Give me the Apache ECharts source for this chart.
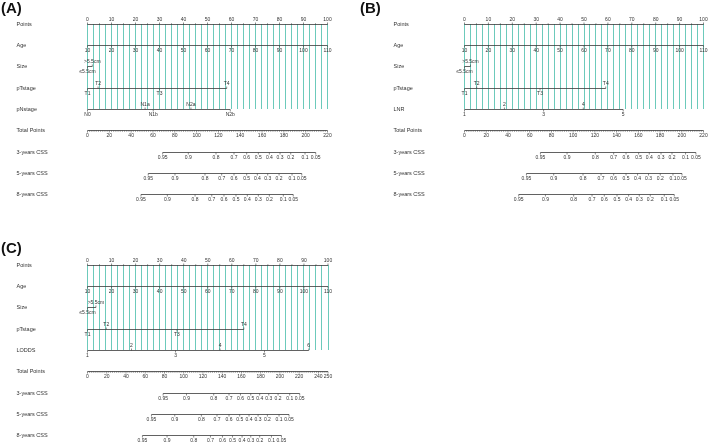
<!DOCTYPE html>
<html><head><meta charset="utf-8">
<script src="https://cdn.jsdelivr.net/npm/echarts@6/dist/echarts.min.js"></script>
<style>html,body{margin:0;padding:0;background:#fff}#c{width:709px;height:443px}</style>
</head><body><div id="c"></div>
<script>
// ---------- data ----------
const panelTitles = ['(A)', '(B)', '(C)'];
const rowNames = ['Points', 'Age', 'Size', 'pTstage', '', 'Total Points', '3-years CSS', '5-years CSS', '8-years CSS'];
const fourthRowNames = ['pNstage', 'LNR', 'LODDS'];

const pointsTicks = [0, 10, 20, 30, 40, 50, 60, 70, 80, 90, 100];
const ageTicks = [10, 20, 30, 40, 50, 60, 70, 80, 90, 100, 110];
const ageRange = [10, 110];           // maps onto 0..100 points

const sizeLabels = ['≤5.5cm', '>5.5cm'];
const sizePointsA = [0, 2];
const sizePointsB = [0, 2.5];
const sizePointsC = [0, 3.5];

const tLabels = ['T1', 'T2', 'T3', 'T4'];
const tPointsA = [0, 4.4, 30, 58];
const tPointsB = [0, 5.1, 31.6, 59.1];
const tPointsC = [0, 7.8, 37.2, 65];

const nLabels = ['N0', 'N1a', 'N1b', 'N2a', 'N2b'];
const nPointsA = [0, 24, 27.4, 43.1, 59.5];

const lnrLabels = ['1', '2', '3', '4', '5'];
const lnrPointsB = [0, 16.7, 33.1, 49.7, 66.4];

const loddsLabels = ['1', '2', '3', '4', '5', '6'];
const loddsPointsC = [0, 18.3, 36.6, 55.1, 73.6, 92];

const totalTicksA = [0, 20, 40, 60, 80, 100, 120, 140, 160, 180, 200, 220];
const totalTicksB = [0, 20, 40, 60, 80, 100, 120, 140, 160, 180, 200, 220];
const totalTicksC = [0, 20, 40, 60, 80, 100, 120, 140, 160, 180, 200, 220, 240, 250];
const totalMax = [220, 220, 250];

const cssLabels = ['0.95', '0.9', '0.8', '0.7', '0.6', '0.5', '0.4', '0.3', '0.2', '0.1', '0.05'];
// positions in total points
const css3A = [68.9, 92.4, 117.8, 134.3, 145.9, 156.6, 166.7, 176.5, 186.3, 199.4, 209.2];
const css5A = [55.7, 80.2, 107.7, 123.0, 134.3, 145.9, 155.7, 165.2, 175.6, 187.5, 196.4];
const css8A = [49.0, 73.2, 98.6, 113.9, 125.1, 136.1, 146.5, 156.6, 166.7, 179.5, 188.6];
const css3B = [69.9, 94.4, 120.4, 137.3, 148.7, 160.3, 170.1, 180.9, 191.0, 203.5, 213.0];
const css5B = [57.0, 82.1, 109.1, 125.7, 137.3, 148.7, 159.3, 169.4, 180.2, 191.9, 200.2];
const css8B = [49.9, 74.5, 100.5, 117.4, 128.7, 140.4, 151.1, 160.9, 171.0, 183.9, 193.1];
const css3C = [78.6, 102.9, 131.2, 147.1, 159.0, 169.7, 179.0, 188.4, 198.1, 210.2, 220.6];
const css5C = [66.5, 90.7, 118.4, 134.6, 147.1, 158.2, 167.9, 177.3, 187.0, 199.1, 209.5];
const css8C = [57.1, 82.7, 110.4, 127.8, 140.3, 150.7, 160.7, 169.7, 179.0, 191.2, 201.6];

// ---------- styling ----------
const axisColor = '#3a3a3a';
const textColor = '#333';
const gridLineColor = '#6ccabb';
const fontFam = 'Liberation Sans, Arial, sans-serif';
const guideStep = 2.5;     // spacing of the vertical guide lines, in points
const pointsMinorStep = 5;
const totalMinorStep = 2;
const snap = v => Math.round(v - 0.5) + 0.5;

const grids = [
  { left: 87.5, top: 24, width: 240, height: 170.67 },
  { left: 464.5, top: 24, width: 239, height: 170.67 },
  { left: 87.5, top: 265, width: 240.5, height: 170.67 }
];

const panels = [
  { size: sizePointsA, t: tPointsA, fourthLabels: nLabels, fourth: nPointsA, total: totalTicksA, css: [css3A, css5A, css8A] },
  { size: sizePointsB, t: tPointsB, fourthLabels: lnrLabels, fourth: lnrPointsB, total: totalTicksB, css: [css3B, css5B, css8B] },
  { size: sizePointsC, t: tPointsC, fourthLabels: loddsLabels, fourth: loddsPointsC, total: totalTicksC, css: [css3C, css5C, css8C] }
];

const series = [];

function addPanel(pi) {
  const P = panels[pi];
  const tMax = totalMax[pi];
  const toPts = v => v * 100 / tMax;
  const ticks = [];   // [x, row, label, side(1 up/-1 down), major]
  const lines = [];   // [x1, x2, row]

  // Points
  lines.push([0, 100, 0]);
  for (let v = 0; v <= 100; v += pointsMinorStep) {
    if (pointsTicks.indexOf(v) < 0) ticks.push([v, 0, '', 1, 0]);
  }
  pointsTicks.forEach(v => ticks.push([v, 0, String(v), 1, 1]));
  // Age
  lines.push([0, 100, 1]);
  const ageToPts = a => (a - ageRange[0]) * 100 / (ageRange[1] - ageRange[0]);
  ageTicks.forEach(a => ticks.push([ageToPts(a), 1, String(a), -1, 1]));
  // categorical rows
  const cat = (labels, pts, row) => {
    lines.push([pts[0], pts[pts.length - 1], row]);
    labels.forEach((l, i) => ticks.push([pts[i], row, l, i % 2 === 0 ? -1 : 1, 1]));
  };
  cat(sizeLabels, P.size, 2);
  cat(tLabels, P.t, 3);
  cat(P.fourthLabels, P.fourth, 4);
  // Total points
  lines.push([0, 100, 5]);
  for (let v = 0; v <= tMax; v += totalMinorStep) {
    if (P.total.indexOf(v) < 0) ticks.push([toPts(v), 5, '', -1, 0]);
  }
  P.total.forEach(v => ticks.push([toPts(v), 5, String(v), -1, 1]));
  // CSS rows
  P.css.forEach((arr, k) => {
    const row = 6 + k;
    lines.push([toPts(arr[0]), toPts(arr[arr.length - 1]), row]);
    arr.forEach((v, i) => ticks.push([toPts(v), row, cssLabels[i], -1, 1]));
  });

  // vertical guide lines
  const guides = [];
  for (let v = 0; v <= 100 + 1e-9; v += guideStep) guides.push([v, 0, 4]);

  series.push({
    type: 'custom', xAxisIndex: pi, yAxisIndex: pi, silent: true, clip: false, z: 1,
    data: guides,
    renderItem(params, api) {
      const a = api.coord([api.value(0), api.value(1)]);
      const b = api.coord([api.value(0), api.value(2)]);
      const x = snap(a[0]);
      return { type: 'line', shape: { x1: x, y1: Math.round(a[1]), x2: x, y2: Math.round(b[1]) },
        style: { stroke: gridLineColor, lineWidth: 1 } };
    }
  });

  series.push({
    type: 'custom', xAxisIndex: pi, yAxisIndex: pi, silent: true, clip: false, z: 3,
    data: lines,
    renderItem(params, api) {
      const a = api.coord([api.value(0), api.value(2)]);
      const b = api.coord([api.value(1), api.value(2)]);
      const y = snap(a[1]);
      return { type: 'line', shape: { x1: a[0], y1: y, x2: b[0], y2: y },
        style: { stroke: axisColor, lineWidth: 0.8 } };
    }
  });

  series.push({
    type: 'custom', xAxisIndex: pi, yAxisIndex: pi, silent: true, clip: false, z: 4,
    data: ticks.map(t => [t[0], t[1], t[3], t[4]]),
    renderItem(params, api) {
      const p = api.coord([api.value(0), api.value(1)]);
      const side = api.value(2), major = api.value(3);
      const dir = side > 0 ? -1 : 1;
      const len = major ? 2 : 1.2;
      const y0 = snap(p[1]);
      const children = [{ type: 'line', shape: { x1: p[0], y1: y0, x2: p[0], y2: y0 + dir * len },
        style: { stroke: axisColor, lineWidth: 0.6 } }];
      const label = ticks[params.dataIndex][2];
      if (label) {
        children.push({ type: 'text', x: p[0], y: y0 + dir * (len + 0.6),
          style: { text: label, fontSize: 5, fontFamily: fontFam, fill: textColor,
            align: 'center', verticalAlign: side > 0 ? 'bottom' : 'top' } });
      }
      return { type: 'group', children };
    }
  });

  // row names
  const names = rowNames.map((n, i) => i === 4 ? fourthRowNames[pi] : n);
  series.push({
    type: 'custom', xAxisIndex: pi, yAxisIndex: pi, silent: true, clip: false, z: 4,
    data: names.map((n, i) => [0, i]),
    renderItem(params, api) {
      const p = api.coord([api.value(0), api.value(1)]);
      return { type: 'text', x: p[0] - 71, y: p[1],
        style: { text: names[params.dataIndex], fontSize: 5.5, fontFamily: fontFam, fill: textColor,
          align: 'left', verticalAlign: 'middle' } };
    }
  });
}
[0, 1, 2].forEach(addPanel);

const chart = echarts.init(document.getElementById('c'), null, { renderer: 'canvas' });
chart.setOption({
  animation: false,
  backgroundColor: '#fff',
  title: [
    { text: panelTitles[0], left: 1, top: 1 },
    { text: panelTitles[1], left: 360, top: 1 },
    { text: panelTitles[2], left: 1, top: 241 }
  ].map(t => Object.assign(t, { padding: 0, textStyle: { fontSize: 15, fontWeight: 'bold', color: '#111', fontFamily: fontFam } })),
  grid: grids.map(g => Object.assign({ containLabel: false, show: false }, g)),
  xAxis: grids.map((g, i) => ({ type: 'value', gridIndex: i, min: 0, max: 100, show: false })),
  yAxis: grids.map((g, i) => ({ type: 'value', gridIndex: i, min: 0, max: 8, inverse: true, show: false })),
  series
});
</script></body></html>
